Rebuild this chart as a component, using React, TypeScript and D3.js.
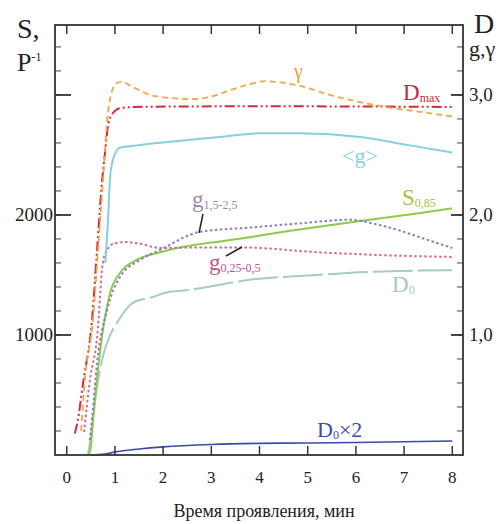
import React from "react";
import * as d3 from "d3";

// time, min  /  value (S in P^-1, the rest in D / g / gamma units)
const sData = [[0.44, 0], [0.49, 40], [0.55, 300], [0.62, 600], [0.73, 980], [0.9, 1350], [1.1, 1515], [1.45, 1625], [1.94, 1690], [2.42, 1735], [3.0, 1770], [3.8, 1815], [4.5, 1860], [5.2, 1900], [5.9, 1940], [6.56, 1975], [7.3, 2015], [8, 2055]];
const dmaxData = [[0.17, 0.18], [0.23, 0.29], [0.34, 0.6], [0.53, 1.15], [0.63, 1.71], [0.73, 2.27], [0.8, 2.54], [0.86, 2.75], [0.96, 2.85], [1.1, 2.89], [1.42, 2.9], [3, 2.905], [5, 2.905], [8, 2.9]];
const gammaData = [[0.3, 0.2], [0.37, 0.6], [0.55, 1.15], [0.65, 1.71], [0.75, 2.27], [0.84, 2.79], [0.93, 3.02], [1.04, 3.1], [1.15, 3.11], [1.31, 3.08], [1.73, 3.0], [2.15, 2.975], [2.56, 2.965], [2.98, 2.985], [3.39, 3.04], [3.8, 3.09], [4.11, 3.115], [4.43, 3.105], [4.84, 3.075], [5.46, 3.0], [6.09, 2.94], [6.77, 2.89], [7.33, 2.86], [8, 2.82]];
const gMeanData = [[0.8, 1.6], [0.86, 1.98], [0.9, 2.32], [0.96, 2.46], [1.04, 2.54], [1.1, 2.56], [1.46, 2.58], [2.15, 2.61], [3.18, 2.65], [4.0, 2.68], [4.84, 2.68], [6.09, 2.65], [7.12, 2.58], [8, 2.52]];
const g15Data = [[0.48, 0.125], [0.53, 0.32], [0.63, 0.77], [0.84, 1.21], [1.1, 1.48], [1.52, 1.625], [1.94, 1.71], [2.77, 1.86], [3.8, 1.895], [4.84, 1.93], [5.88, 1.96], [6.4, 1.925], [6.91, 1.87], [7.43, 1.8], [8, 1.725]];
const g025Data = [[0.36, 0.19], [0.48, 0.62], [0.63, 0.98], [0.75, 1.6], [0.84, 1.71], [1.0, 1.765], [1.25, 1.775], [1.52, 1.76], [1.94, 1.725], [2.77, 1.73], [3.6, 1.73], [5.2, 1.69], [6.56, 1.665], [8, 1.65]];
const d0Data = [[0.44, 0], [0.5, 0.15], [0.57, 0.4], [0.65, 0.62], [0.75, 0.82], [0.88, 0.98], [1.04, 1.1], [1.38, 1.27], [1.73, 1.31], [2.14, 1.36], [2.42, 1.37], [3.8, 1.46], [5.2, 1.5], [6.23, 1.525], [8, 1.54]];
const fogData = [[0.5, 0], [0.8, 0.008], [1.0, 0.025], [1.5, 0.05], [2, 0.068], [3, 0.088], [4, 0.097], [5, 0.1], [6, 0.104], [7, 0.11], [8, 0.117]];

const xTicks = [0, 1, 2, 3, 4, 5, 6, 7, 8];
const leftLabels = [1000, 2000];
const leftMajor = [1000, 2000, 3000];
const rightLabels = [1, 2, 3];

const serif = { fontFamily: "Liberation Serif" };

const App = () => {
  const left = 55, right = 463, top = 25, bottom = 455;

  const x = d3.scaleLinear().domain([-0.243, 8.222]).range([left, right]);
  const y = d3.scaleLinear().domain([0, 3583]).range([bottom, top]);
  const yR = d3.scaleLinear().domain([0, 3.583]).range([bottom, top]);

  const lineS = d3.line().x((d) => x(d[0])).y((d) => y(d[1])).curve(d3.curveMonotoneX);
  const lineR = d3.line().x((d) => x(d[0])).y((d) => yR(d[1])).curve(d3.curveMonotoneX);

  const minor = d3.range(200, 3583, 200);

  const series = [
    { d: lineR(fogData), c: "#3a4aa8", dash: null, w: 1.6 },
    { d: lineR(d0Data), c: "#a6ccc0", dash: "40,5", w: 2 },
    { d: lineS(sData), c: "#8ccc4a", dash: null, w: 2 },
    { d: lineR(g025Data), c: "#d86a8c", dash: "2.5,2.5", w: 2 },
    { d: lineR(g15Data), c: "#8c7cc0", dash: "2.5,2.5", w: 2 },
    { d: lineR(gMeanData), c: "#86d0dc", dash: null, w: 2 },
    { d: lineR(dmaxData), c: "#d42a3c", dash: "10,3,2,3,2,3", w: 2 },
    { d: lineR(gammaData), c: "#f2a54a", dash: "6,4", w: 1.8 },
  ];

  return (
    <svg width={502} height={524} style={{ position: "absolute", left: 0, top: 0, background: "#fff" }}>
      {series.map((s, i) => (
        <path key={i} d={s.d} fill="none" stroke={s.c} strokeWidth={s.w} strokeDasharray={s.dash || undefined} />
      ))}

      {/* frame */}
      <rect x={left} y={top} width={right - left} height={bottom - top} fill="none" stroke="#333" strokeWidth={1.8} />

      {/* x ticks top and bottom */}
      {xTicks.map((t) => (
        <g key={t}>
          <line x1={x(t)} x2={x(t)} y1={bottom} y2={bottom - 9} stroke="#333" strokeWidth={1.5} />
          <line x1={x(t)} x2={x(t)} y1={top} y2={top + 9} stroke="#333" strokeWidth={1.5} />
          <text x={x(t)} y={483} textAnchor="middle" fontSize={17} fill="#222" style={serif}>{t}</text>
        </g>
      ))}

      {/* left / right minor ticks */}
      {minor.map((v) => (
        <g key={v}>
          <line x1={left} x2={left + 6} y1={y(v)} y2={y(v)} stroke="#444" strokeWidth={1} />
          <line x1={right} x2={right - 6} y1={y(v)} y2={y(v)} stroke="#444" strokeWidth={1} />
        </g>
      ))}
      {leftMajor.map((v) => (
        <line key={v} x1={left} x2={left + 16} y1={y(v)} y2={y(v)} stroke="#333" strokeWidth={1.8} />
      ))}
      {leftLabels.map((v) => (
        <text key={v} x={53} y={y(v) + 6} textAnchor="end" fontSize={19} fill="#222" style={serif}>{v}</text>
      ))}
      {rightLabels.map((v) => (
        <g key={v}>
          <line x1={right} x2={right - 12} y1={yR(v)} y2={yR(v)} stroke="#333" strokeWidth={1.8} />
          <text x={469} y={yR(v) + 6} fontSize={19} fill="#222" style={serif}>{v.toFixed(1).replace(".", ",")}</text>
        </g>
      ))}

      {/* axis titles */}
      <text x={17} y={38} fontSize={28} fill="#222" style={serif}>S,</text>
      <text x={17} y={71} fontSize={26} fill="#222" style={serif}>P<tspan fontSize={12} dy={-10}>-1</tspan></text>
      <text x={474} y={33} fontSize={28} fill="#222" style={serif}>D</text>
      <text x={469} y={56} fontSize={22} fill="#222" style={serif}>g,γ</text>
      <text x={264} y={517} textAnchor="middle" fontSize={18} fill="#222" style={serif}>Время проявления, мин</text>

      {/* series labels */}
      <text x={294} y={78} fontSize={20} fill="#e8a040" style={serif}>γ</text>
      <text x={403} y={100} fontSize={23} fill="#c4283c" style={serif}>D<tspan fontSize={12} dy={2}>max</tspan></text>
      <text x={342} y={163} fontSize={22} fill="#8ad4e0" style={serif}>{"<g>"}</text>
      <text x={402} y={205} fontSize={23} fill="#a8c03c" style={serif}>S<tspan fontSize={12} dy={2}>0,85</tspan></text>
      <text x={192} y={207} fontSize={23} fill="#a084b4" style={serif}>g<tspan fontSize={12} dy={2}>1,5-2,5</tspan></text>
      <line x1={203} y1={214} x2={199} y2={233} stroke="#222" strokeWidth={1.5} />
      <text x={209} y={270} fontSize={23} fill="#c8508c" style={serif}>g<tspan fontSize={12} dy={2}>0,25-0,5</tspan></text>
      <line x1={226} y1={256} x2={242} y2={247} stroke="#222" strokeWidth={1.5} />
      <text x={392} y={292} fontSize={23} fill="#a8c8c0" style={serif}>D<tspan fontSize={12} dy={2}>0</tspan></text>
      <text x={317} y={437} fontSize={22} fill="#3a4aa8" style={serif}>D<tspan fontSize={12} dy={2}>0</tspan><tspan dy={-2}>×2</tspan></text>
    </svg>
  );
};

export default App;
